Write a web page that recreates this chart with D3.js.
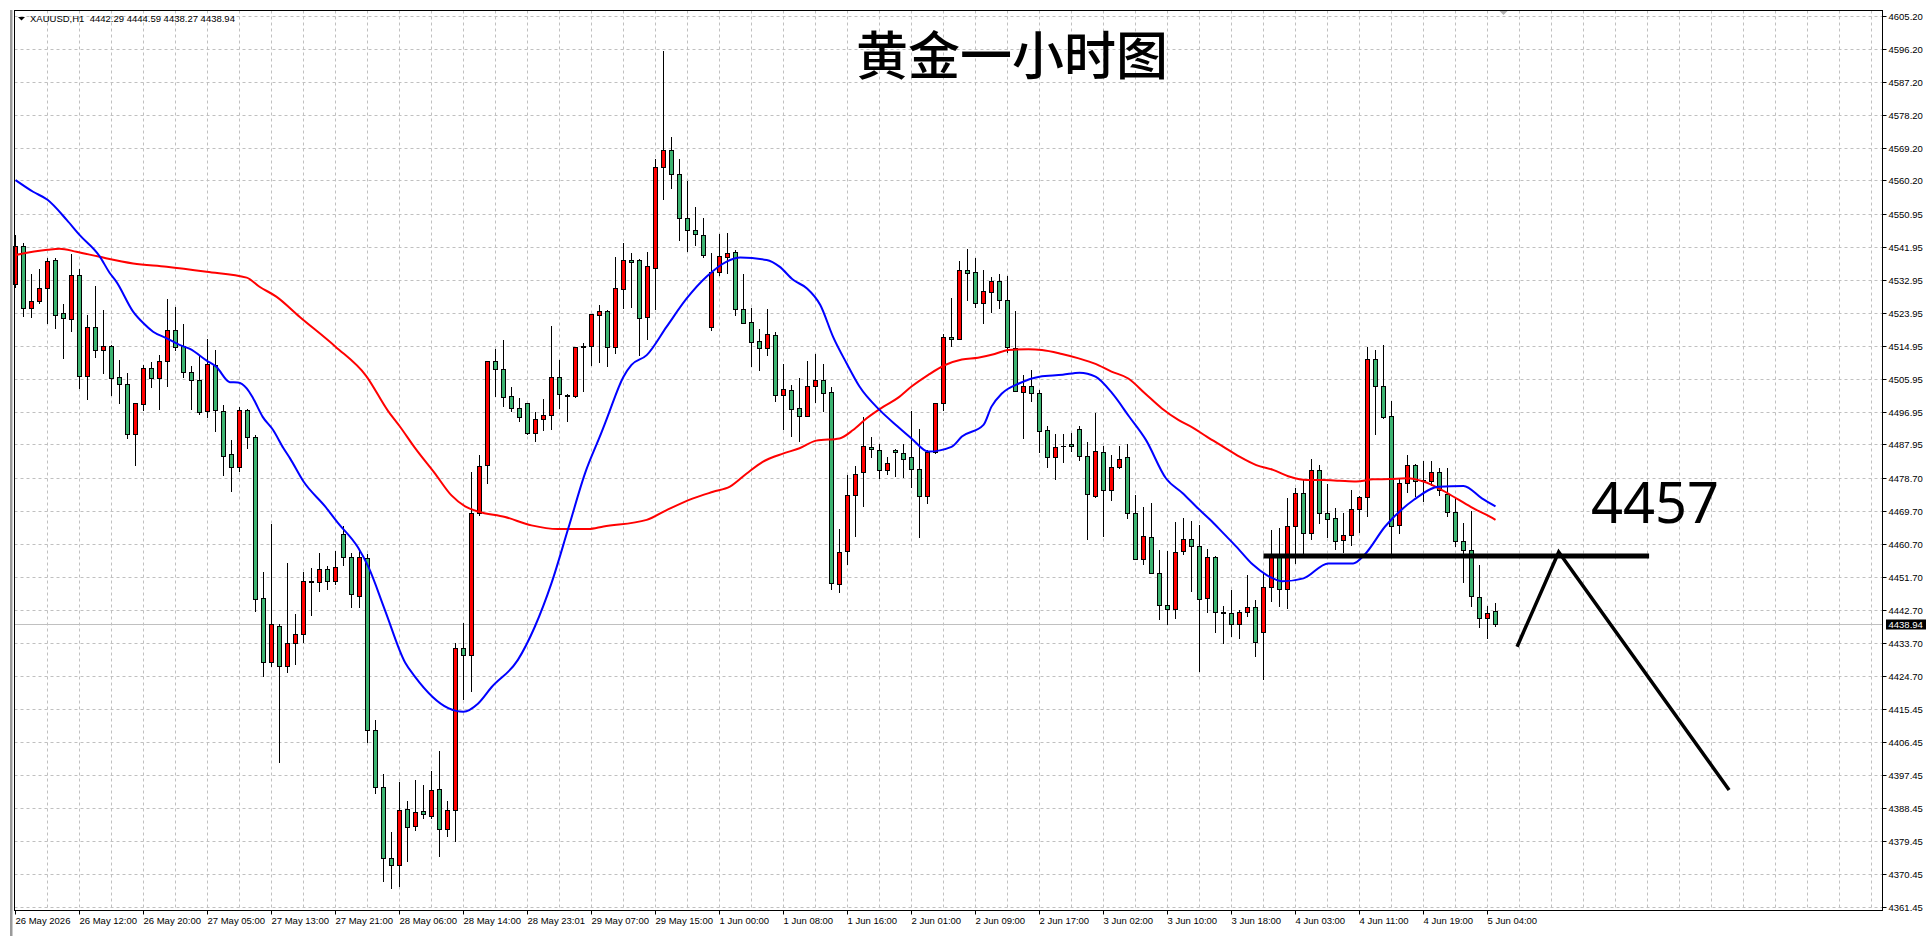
<!DOCTYPE html>
<html><head><meta charset="utf-8">
<script src="https://cdn.jsdelivr.net/npm/d3@7"></script>
<style>html,body{margin:0;padding:0;background:#fff;overflow:hidden;} svg{display:block;}</style>
</head><body>
<svg id="chart" width="1930" height="936"></svg>
<script>
// ---------- DATA ----------
const symbolInfo = "XAUUSD,H1  4442.29 4444.59 4438.27 4438.94";
const titleText = "黄金一小时图";
const targetText = "4457";

const opens = [4531.9,4542.2,4525.2,4527.1,4530.9,4538.3,4523.8,4522.4,4534.2,4506.8,
4520.2,4513.8,4515.0,4506.3,4504.6,4490.7,4499.1,4508.8,4506.0,4510.7,
4519.2,4515.0,4507.7,4505.5,4497.0,4509.8,4497.2,4485.2,4481.7,4497.4,
4489.9,4445.8,4428.3,4438.4,4427.2,4433.7,4436.2,4450.6,4450.2,4453.9,
4450.5,4463.4,4457.1,4446.6,4456.9,4409.8,4394.2,4374.7,4372.9,4388.2,
4383.4,4387.6,4386.4,4393.6,4382.8,4387.8,4432.2,4430.4,4469.3,4482.2,
4510.7,4508.7,4501.1,4497.9,4499.3,4491.0,4494.9,4496.0,4506.5,4501.4,
4501.1,4514.6,4514.9,4523.4,4524.5,4514.7,4530.6,4538.3,4538.3,4522.9,
4536.3,4564.0,4568.5,4562.0,4550.0,4546.5,4545.2,4520.2,4535.1,4539.3,
4540.5,4525.1,4521.4,4516.3,4514.3,4517.8,4501.4,4502.8,4497.8,4495.6,
4503.9,4505.5,4502.2,4449.8,4458.7,4474.0,4480.3,4487.2,4486.3,4480.9,
4486.3,4485.5,4484.4,4481.2,4473.9,4485.9,4499.2,4517.3,4516.7,4535.6,
4535.1,4526.6,4529.6,4532.8,4527.4,4514.3,4502.4,4503.9,4501.9,4491.8,
4484.6,4487.6,4488.0,4492.1,4484.7,4473.9,4485.8,4475.4,4481.7,4484.4,
4469.1,4456.7,4462.5,4452.9,4443.9,4442.8,4458.9,4462.0,4460.1,4445.8,
4457.1,4442.0,4441.7,4438.7,4442.0,4443.6,4436.7,4448.9,4457.5,4448.3,
4465.7,4474.8,4463.6,4480.9,4469.1,4467.7,4461.7,4463.1,4470.2,4473.5,
4511.2,4503.9,4495.6,4465.9,4477.3,4482.4,4478.1,4477.9,4480.5,4474.4,
4469.6,4461.4,4459.0,4446.3,4440.4,4442.29];
const highs = [4545.2,4543.1,4534.7,4535.9,4538.9,4538.9,4526.3,4540.2,4535.9,4523.5,
4531.2,4524.7,4515.3,4511.0,4507.4,4499.4,4509.8,4510.5,4512.4,4527.8,
4525.7,4520.8,4509.4,4512.4,4516.9,4513.7,4498.8,4489.1,4498.3,4497.6,
4490.5,4453.0,4466.3,4438.8,4455.4,4441.5,4453.0,4454.1,4458.3,4454.8,
4458.7,4465.5,4458.3,4459.0,4458.1,4412.5,4397.8,4381.9,4395.6,4390.5,
4396.2,4394.8,4398.7,4404.0,4390.5,4433.5,4439.1,4480.4,4485.0,4510.8,
4514.1,4516.4,4503.6,4500.6,4499.3,4496.7,4500.3,4520.4,4511.1,4501.8,
4514.6,4515.8,4523.7,4526.1,4524.8,4539.3,4543.0,4540.3,4538.6,4540.6,
4566.0,4595.5,4572.0,4566.0,4560.0,4553.0,4550.0,4540.3,4545.5,4545.7,
4541.2,4534.6,4525.3,4519.5,4525.0,4518.6,4509.9,4504.2,4506.0,4510.8,
4512.7,4510.1,4503.7,4464.7,4479.6,4482.1,4495.4,4490.0,4488.2,4484.4,
4486.6,4488.0,4497.0,4492.2,4486.3,4499.2,4518.1,4528.0,4538.2,4541.4,
4539.1,4535.7,4533.9,4534.5,4534.0,4524.5,4506.9,4508.3,4502.8,4492.9,
4490.7,4490.8,4491.1,4492.9,4488.6,4496.6,4487.5,4485.1,4487.5,4488.1,
4474.0,4470.9,4471.8,4459.1,4458.8,4466.6,4467.8,4467.0,4465.9,4459.3,
4457.3,4443.7,4448.1,4442.6,4452.2,4445.4,4452.7,4464.5,4465.2,4473.2,
4476.1,4478.3,4484.0,4482.3,4477.0,4470.5,4469.2,4475.5,4473.8,4514.7,
4513.8,4515.2,4499.8,4478.7,4485.0,4482.6,4483.4,4483.4,4481.6,4481.6,
4473.7,4466.5,4469.7,4454.9,4443.7,4444.59];
const lows = [4531.0,4523.2,4522.9,4526.7,4521.2,4519.9,4511.6,4519.1,4503.4,4500.5,
4511.9,4507.6,4501.6,4499.3,4489.7,4482.4,4497.4,4503.8,4497.6,4503.9,
4513.8,4506.4,4497.6,4496.3,4495.5,4491.5,4479.7,4475.2,4480.7,4486.9,
4442.4,4424.7,4427.2,4401.1,4425.8,4428.0,4433.9,4441.3,4447.8,4448.5,
4449.7,4455.0,4443.6,4443.6,4406.5,4392.6,4368.5,4366.6,4367.0,4374.0,
4382.5,4385.8,4385.8,4375.2,4380.7,4379.4,4418.2,4420.6,4468.7,4477.5,
4501.1,4498.4,4497.2,4494.5,4490.7,4488.9,4491.8,4492.1,4497.9,4494.5,
4500.8,4502.6,4509.6,4510.4,4509.5,4513.1,4525.3,4525.7,4512.4,4516.8,
4525.0,4555.0,4558.0,4544.0,4541.0,4542.5,4539.3,4519.4,4534.3,4535.0,
4523.5,4521.1,4509.4,4508.4,4512.4,4499.9,4492.3,4490.3,4489.0,4495.6,
4499.7,4497.2,4448.5,4447.5,4455.3,4463.0,4471.2,4484.6,4478.8,4480.0,
4479.4,4479.1,4476.3,4462.7,4472.0,4485.5,4497.4,4514.9,4516.7,4527.5,
4525.7,4521.3,4524.3,4525.3,4513.3,4502.7,4489.8,4499.8,4486.0,4481.9,
4478.4,4483.2,4486.1,4483.7,4462.0,4473.5,4463.0,4472.7,4481.6,4467.8,
4456.7,4455.1,4452.7,4440.1,4438.7,4440.5,4458.0,4447.9,4426.0,4442.2,
4436.7,4433.5,4435.4,4434.9,4441.0,4430.1,4423.7,4445.2,4443.8,4443.1,
4455.4,4458.2,4462.1,4466.5,4462.7,4459.3,4458.4,4460.5,4464.0,4468.5,
4490.9,4495.3,4458.2,4463.6,4474.9,4473.9,4472.5,4476.9,4474.1,4468.5,
4460.2,4450.4,4443.7,4438.1,4434.9,4438.27];
const closes = [4542.2,4525.2,4527.1,4530.8,4538.1,4523.5,4522.5,4534.2,4506.8,4520.2,
4513.7,4515.0,4506.2,4504.6,4490.7,4499.2,4508.8,4506.0,4510.7,4519.4,
4514.7,4507.7,4505.5,4496.7,4509.9,4497.3,4484.9,4481.7,4497.5,4489.9,
4445.6,4428.3,4438.8,4427.2,4433.7,4436.2,4450.6,4450.2,4453.9,4450.6,
4454.5,4457.1,4446.9,4457.1,4409.8,4394.2,4374.7,4372.9,4387.9,4383.3,
4387.3,4386.9,4393.5,4382.8,4387.8,4432.2,4430.4,4469.3,4482.0,4510.8,
4508.7,4500.8,4497.8,4495.5,4491.0,4494.9,4496.0,4506.5,4501.8,4501.1,
4514.6,4514.9,4523.7,4524.6,4514.5,4530.9,4538.3,4538.0,4522.6,4536.8,
4564.0,4568.5,4562.0,4550.0,4546.5,4545.5,4539.7,4535.1,4539.4,4540.3,
4525.1,4521.1,4516.1,4514.3,4518.1,4501.4,4503.0,4497.7,4495.6,4503.9,
4505.5,4501.9,4450.0,4458.4,4474.0,4479.8,4487.4,4486.6,4480.9,4482.8,
4485.8,4484.1,4481.3,4473.9,4485.9,4499.2,4517.3,4516.7,4535.6,4534.8,
4526.6,4529.9,4532.8,4527.4,4514.5,4502.7,4503.9,4501.9,4491.5,4484.4,
4487.2,4487.5,4487.4,4484.7,4474.3,4486.1,4475.4,4481.7,4484.1,4469.1,
4456.7,4462.8,4452.9,4443.9,4442.8,4458.6,4462.2,4460.2,4445.6,4457.1,
4442.0,4441.7,4438.7,4442.0,4443.6,4434.0,4448.9,4457.5,4448.3,4465.5,
4474.8,4463.6,4480.9,4469.1,4467.5,4461.4,4463.1,4470.2,4473.5,4511.2,
4503.9,4495.5,4465.5,4477.3,4482.4,4477.9,4477.9,4480.5,4475.5,4469.4,
4461.4,4459.0,4446.6,4440.4,4441.9,4438.94];

// moving averages read at sample bars: [bar index, value]
const maBlue = [[0,4560.3],[2.2,4557.1],[4,4554.9],[6.4,4549.4],[8,4545.3],[10.5,4539.5],[11.8,4534.8],[12.6,4532.5],[14.7,4524.3],[16,4521.1],[17.2,4518.8],[18.9,4517.0],[20.5,4515.2],[21.8,4514.1],[23.9,4510.9],[25.1,4509.2],[26.8,4505.0],[27.8,4504.9],[28.9,4503.3],[29.7,4500.6],[30.9,4495.5],[32.2,4491.9],[33.5,4486.9],[34.3,4484.2],[36,4477.8],[38.7,4471.0],[40.3,4466.5],[42.8,4459.8],[44.1,4454.5],[46.2,4442.5],[48.7,4428.3],[49.9,4424.5],[54.1,4415.8],[56,4414.8],[57.8,4417.0],[59.5,4421.5],[62.8,4429.0],[64.9,4438.0],[67,4450.0],[69.1,4465.0],[71.2,4480.1],[73.3,4491.5],[74,4495.5],[76,4506.5],[77,4509.7],[78.9,4512.4],[81.4,4520.2],[83.9,4527.9],[86.4,4533.9],[88.9,4538.0],[90.6,4539.1],[93.9,4538.4],[95.5,4536.6],[97.2,4533.0],[98.9,4530.7],[100.6,4526.1],[102.2,4517.4],[103.9,4510.1],[105.5,4503.8],[108,4497.4],[110.2,4493.0],[112,4489.6],[114.1,4486.0],[117,4487.3],[118.3,4490.1],[121,4493.3],[122,4498.3],[123.3,4501.9],[125.5,4504.7],[128,4506.5],[130.9,4507.0],[133,4507.6],[135,4506.5],[137.1,4501.9],[139.2,4495.6],[141.3,4489.2],[143.8,4478.7],[145.9,4474.6],[147.6,4470.9],[149.5,4467.0],[151,4463.6],[152.6,4460.0],[154.7,4455.0],[156.4,4452.2],[158.4,4450.5],[161,4451.3],[164.1,4455.4],[167.2,4455.4],[168.6,4457.7],[171.2,4465.5],[174.8,4472.8],[177.9,4476.4],[181,4476.6],[183.3,4473.2],[185,4471.0]];
const maRed = [[0,4539.8],[4,4541.2],[5.5,4541.5],[7.6,4540.7],[10.5,4539.3],[14.7,4537.5],[18.9,4536.6],[23.9,4535.2],[28.9,4533.6],[30.5,4531.1],[32.6,4528.4],[35.5,4522.9],[40,4514.7],[43.8,4506.8],[46.6,4497.0],[48,4493.0],[50,4486.8],[52.4,4480.1],[54.5,4474.0],[56.2,4471.0],[57.8,4469.6],[61.2,4468.1],[64.5,4465.8],[67.8,4464.8],[71.6,4464.8],[73.5,4465.5],[78.9,4467.3],[81.4,4470.0],[84.7,4473.2],[87.2,4475.0],[89.3,4476.4],[91.4,4480.0],[93.4,4483.2],[96,4485.5],[98,4486.9],[100.1,4489.0],[103,4489.6],[104.7,4491.9],[106.4,4495.1],[108.5,4498.3],[110.3,4500.7],[112,4503.8],[114.1,4507.0],[116.2,4509.7],[118.3,4511.2],[120.3,4511.7],[122.4,4512.7],[124.1,4513.8],[126.6,4514.0],[128.3,4513.8],[130.8,4512.7],[132.9,4511.5],[135,4510.0],[137,4507.9],[139.1,4506.0],[141.2,4501.9],[143.3,4497.8],[145.4,4494.6],[147.2,4492.5],[148.9,4490.1],[151,4487.3],[153,4484.6],[155.1,4482.3],[157.2,4481.0],[159.3,4479.1],[161.4,4478.2],[163.5,4478.2],[165.5,4478.0],[167.6,4477.8],[169.7,4478.4],[171.8,4478.5],[173.9,4478.7],[176,4477.8],[178.1,4475.7],[180.1,4473.2],[182.2,4470.5],[184.3,4468.2],[185,4467.3]];

const priceTicks = [4605.20,4596.20,4587.20,4578.20,4569.20,4560.20,4550.95,4541.95,4532.95,4523.95,4514.95,4505.95,4496.95,4487.95,4478.70,4469.70,4460.70,4451.70,4442.70,4433.70,4424.70,4415.45,4406.45,4397.45,4388.45,4379.45,4370.45,4361.45];
const timeTickBars = [0,8,16,24,32,40,48,56,64,72,80,88,96,104,112,120,128,136,144,152,160,168,176,184];
const timeLabels = ["26 May 2026","26 May 12:00","26 May 20:00","27 May 05:00","27 May 13:00","27 May 21:00","28 May 06:00","28 May 14:00","28 May 23:01","29 May 07:00","29 May 15:00","1 Jun 00:00","1 Jun 08:00","1 Jun 16:00","2 Jun 01:00","2 Jun 09:00","2 Jun 17:00","3 Jun 02:00","3 Jun 10:00","3 Jun 18:00","4 Jun 03:00","4 Jun 11:00","4 Jun 19:00","5 Jun 04:00"];
const currentPrice = 4438.94;
const chartShiftBar = 186;
// hand-drawn annotations: [bar index, price]
const levelLine = [[156.0,4457.4],[204.2,4457.4]];
const zigzag = [[187.7,4432.6],[192.9,4458.5],[214.2,4393.4]];

// ---------- LAYOUT ----------
const plot = {left:14.5, right:1882.5, top:10.5, bottom:910.5};
const svg = d3.select("#chart");
const x = d3.scaleLinear().domain([0,185]).range([15.5, 15.5+8*185]);
const y = d3.scaleLinear().domain([4361.45,4605.20]).range([906.7,16]);
const crisp = v => Math.round(v)+0.5;
const FONT = "'Liberation Sans', Arial, sans-serif";

// window frame
svg.append("rect").attr("x",10).attr("y",10).attr("width",2.5).attr("height",926).attr("fill","#9a9a9a");

// grid
const grid = svg.append("g").attr("stroke","#c0c0c0").attr("stroke-width",1).attr("stroke-dasharray","3,3");
priceTicks.forEach(v=>{
  grid.append("line").attr("x1",plot.left).attr("x2",plot.right).attr("y1",crisp(y(v))).attr("y2",crisp(y(v)));
});
for(let b=4; x(b) < plot.right-2; b+=4){
  grid.append("line").attr("x1",x(b)).attr("x2",x(b)).attr("y1",plot.top).attr("y2",plot.bottom);
}

// current price line
svg.append("line").attr("x1",plot.left).attr("x2",plot.right)
  .attr("y1",crisp(y(currentPrice))).attr("y2",crisp(y(currentPrice)))
  .attr("stroke","#c0c0c0").attr("stroke-width",1);

// candles
const idx = d3.range(opens.length);
const cg = svg.append("g");
idx.forEach(i=>{
  const cx = x(i), o=opens[i], c=closes[i];
  cg.append("line").attr("x1",cx).attr("x2",cx)
    .attr("y1",Math.round(y(highs[i]))).attr("y2",Math.round(y(lows[i]))+1)
    .attr("stroke","#000").attr("stroke-width",1);
  const t = crisp(y(Math.max(o,c))), b = crisp(y(Math.min(o,c)));
  if (b - t < 1) {
    cg.append("line").attr("x1",cx-2.5).attr("x2",cx+2.5).attr("y1",t).attr("y2",t)
      .attr("stroke","#000").attr("stroke-width",1);
  } else {
    cg.append("rect").attr("x",cx-2).attr("y",t).attr("width",4).attr("height",b-t)
      .attr("fill", c>=o ? "#ff0000" : "#3cb371").attr("stroke","#000").attr("stroke-width",1);
  }
});

// moving averages
const line = d3.line().x(d=>x(d[0])).y(d=>y(d[1])).curve(d3.curveMonotoneX);
svg.append("path").datum(maRed).attr("d",line).attr("fill","none").attr("stroke","#ff0000").attr("stroke-width",2);
svg.append("path").datum(maBlue).attr("d",line).attr("fill","none").attr("stroke","#0000ff").attr("stroke-width",2);

// annotations
const aline = d3.line().x(d=>x(d[0])).y(d=>y(d[1]));
svg.append("path").datum(levelLine).attr("d",aline).attr("stroke","#000").attr("stroke-width",5).attr("fill","none");
svg.append("path").datum(zigzag).attr("d",aline).attr("stroke","#000").attr("stroke-width",3.5).attr("fill","none").attr("stroke-linejoin","miter");
svg.append("text").attr("x",1591).attr("y",523).attr("font-family","'Noto Sans', sans-serif")
  .attr("font-size",56).attr("fill","#000").text(targetText);

// frame
svg.append("rect").attr("x",plot.left).attr("y",plot.top).attr("width",plot.right-plot.left).attr("height",plot.bottom-plot.top)
  .attr("fill","none").attr("stroke","#000").attr("stroke-width",1);

// chart shift marker
const sx = x(chartShiftBar);
svg.append("path").attr("d",`M${sx-4},11 L${sx+4},11 L${sx},15 Z`).attr("fill","#b0b0b0");

// right axis
const yAxis = d3.axisRight(y).tickValues(priceTicks).tickFormat(d3.format(".2f")).tickSize(4).tickSizeOuter(0).tickPadding(2).offset(0);
const gy = svg.append("g").attr("transform",`translate(${plot.right},0)`).call(yAxis);
gy.select(".domain").remove();
gy.selectAll(".tick").attr("transform",d=>`translate(0,${crisp(y(d))})`);
gy.selectAll("text").attr("font-family",FONT).attr("font-size",9.5).attr("fill","#000");

// current price label
const cpy = crisp(y(currentPrice));
svg.append("rect").attr("x",1886).attr("y",cpy-5).attr("width",40).attr("height",10).attr("fill","#000");
svg.append("text").attr("x",1888.5).attr("y",cpy).attr("dy","0.34em").attr("font-family",FONT).attr("font-size",9.5)
  .attr("fill","#fff").text(currentPrice.toFixed(2));

// bottom axis
const xAxis = d3.axisBottom(x).tickValues(timeTickBars).tickFormat((d,i)=>timeLabels[i]).tickSize(4).tickSizeOuter(0).tickPadding(3).offset(0);
const gx = svg.append("g").attr("transform",`translate(0,${plot.bottom})`).call(xAxis);
gx.select(".domain").remove();
gx.selectAll("text").attr("font-family",FONT).attr("font-size",9.5).attr("fill","#000").attr("text-anchor","start").attr("x",0);

// header
svg.append("path").attr("d","M18,17 L25,17 L21.5,20.5 Z").attr("fill","#000");
svg.append("text").attr("x",30).attr("y",22).attr("font-family",FONT).attr("font-size",9.5).attr("fill","#000")
  .attr("xml:space","preserve").style("white-space","pre").text(symbolInfo);

// title
svg.append("text").attr("x",1012).attr("y",75).attr("text-anchor","middle")
  .attr("font-family","'Noto Sans CJK SC', sans-serif").attr("font-weight",500).attr("font-size",52)
  .attr("fill","#000").text(titleText);
</script>
</body></html>
